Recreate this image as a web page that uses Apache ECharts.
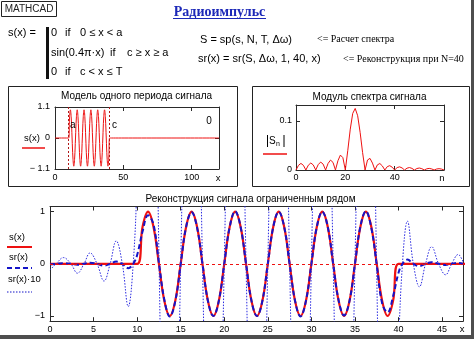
<!DOCTYPE html>
<html>
<head>
<meta charset="utf-8">
<script src="https://cdn.jsdelivr.net/npm/echarts@6/dist/echarts.min.js"></script>
<style>
  html, body { margin: 0; padding: 0; background: #fff; }
  #c { width: 474px; height: 339px; }
</style>
</head>
<body>
<div id="c"></div>
<script>
// Pulse boundaries a and c, period T
const pulseStart = 10;
const pulseEnd = 40;

// s(x): zero outside [a, c], one sine burst inside
const signal = [
  [0, 0], [10, 0],
  [10.625, 0.71], [11.25, 1], [11.875, 0.71], [12.5, 0], [13.125, -0.71], [13.75, -1], [14.375, -0.71], [15, 0],
  [15.625, 0.71], [16.25, 1], [16.875, 0.71], [17.5, 0], [18.125, -0.71], [18.75, -1], [19.375, -0.71], [20, 0],
  [20.625, 0.71], [21.25, 1], [21.875, 0.71], [22.5, 0], [23.125, -0.71], [23.75, -1], [24.375, -0.71], [25, 0],
  [25.625, 0.71], [26.25, 1], [26.875, 0.71], [27.5, 0], [28.125, -0.71], [28.75, -1], [29.375, -0.71], [30, 0],
  [30.625, 0.71], [31.25, 1], [31.875, 0.71], [32.5, 0], [33.125, -0.71], [33.75, -1], [34.375, -0.71], [35, 0],
  [35.625, 0.71], [36.25, 1], [36.875, 0.71], [37.5, 0], [38.125, -0.71], [38.75, -1], [39.375, -0.71], [40, 0],
  [120, 0]
];

// |S_n|, n = 0 .. 60
const spectrumMag = [
  0, 0.0094, 0.0134, 0.0095, 0, 0.0098, 0.0142, 0.0103,
  0, 0.0109, 0.0161, 0.0119, 0, 0.0133, 0.0201, 0.0154,
  0, 0.0188, 0.0303, 0.0251, 0, 0.0400, 0.0830, 0.1149,
  0.125, 0.1102, 0.0764, 0.0353, 0, 0.0204, 0.0236, 0.0140,
  0, 0.0105, 0.0132, 0.0083, 0, 0.0068, 0.0088, 0.0057,
  0, 0.0049, 0.0064, 0.0042, 0, 0.0037, 0.0050, 0.0033,
  0, 0.0030, 0.0040, 0.0027, 0, 0.0024, 0.0033, 0.0022,
  0, 0.0020, 0.0027, 0.0019, 0
];

// sr(x): series truncated at N = 40
const reconstruction = [
  [0, -0.012], [0.75, 0.001], [1.54, 0.012], [2.4, 0], [3.15, -0.018], [3.9, 0], [4.6, 0.021], [5.4, 0],
  [6.2, -0.033], [6.9, 0], [7.6, 0.044], [8.3, 0], [8.98, -0.082], [9.55, 0], [10, 0.17],
  [10.625, 0.62], [11.25, 0.93], [11.875, 0.76], [12.5, 0.02], [13.125, -0.69], [13.75, -1.01], [14.375, -0.72], [15, 0],
  [15.625, 0.71], [16.25, 0.99], [16.875, 0.7], [17.5, 0], [18.125, -0.71], [18.75, -1], [19.375, -0.71], [20, 0],
  [20.625, 0.71], [21.25, 1.01], [21.875, 0.71], [22.5, 0], [23.125, -0.71], [23.75, -1], [24.375, -0.71], [25, 0],
  [25.625, 0.71], [26.25, 1], [26.875, 0.71], [27.5, 0], [28.125, -0.71], [28.75, -1.01], [29.375, -0.71], [30, 0],
  [30.625, 0.71], [31.25, 1], [31.875, 0.71], [32.5, 0], [33.125, -0.7], [33.75, -0.99], [34.375, -0.71], [35, 0],
  [35.625, 0.72], [36.25, 1.01], [36.875, 0.69], [37.5, -0.02], [38.125, -0.76], [38.75, -0.93], [39.375, -0.62], [40, -0.17],
  [40.45, 0], [41.02, 0.082], [41.7, 0], [42.4, -0.044], [43.1, 0], [43.8, 0.033], [44.6, 0], [45.4, -0.021],
  [46.1, 0], [46.85, 0.018], [47.4, 0.004]
];

// sr(x)*10: ripple magnified tenfold, burst runs off the scale
const reconstructionX10 = [
  [0, -0.12], [0.75, 0.01], [1.54, 0.12], [2.4, 0], [3.15, -0.18], [3.9, 0], [4.6, 0.21], [5.4, 0],
  [6.2, -0.33], [6.9, 0], [7.6, 0.44], [8.3, 0], [8.98, -0.82], [9.55, 0], [10, 1.7],
  [10.625, 6.2], [11.25, 9.3], [11.875, 7.6], [12.5, 0.2], [13.75, -10.1], [15, 0], [16.25, 9.9], [17.5, 0],
  [18.75, -10], [20, 0], [21.25, 10.1], [22.5, 0], [23.75, -10], [25, 0], [26.25, 10], [27.5, 0],
  [28.75, -10.1], [30, 0], [31.25, 10], [32.5, 0], [33.75, -9.9], [35, 0], [36.25, 10.1], [37.5, -0.2],
  [38.125, -7.6], [38.75, -9.3], [39.375, -6.2], [40, -1.7], [40.45, 0], [41.02, 0.82], [41.7, 0],
  [42.4, -0.44], [43.1, 0], [43.8, 0.33], [44.6, 0], [45.4, -0.21], [46.1, 0], [46.85, 0.18], [47.4, 0.04]
];

// Tick positions
const ticksModelX = [0, 50, 100];
const ticksModelY = [-1.1, 0, 1.1];
const ticksSpecX = [0, 20, 40];
const ticksSpecY = [0, 0.1];
const ticksReconX = [0, 5, 10, 15, 20, 25, 30, 35, 40, 45];
const ticksReconY = [-1, 0, 1];

const SANS = '"Liberation Sans", Arial, sans-serif';
const SERIF = '"Liberation Serif", "Times New Roman", serif';
const frameColor = '#2a2a2a';
const red = '#ee1111';
const blue = '#1414c8';

function xAxesFor(grid, min, max, ticks, margin) {
  const base = {
    type: 'value', gridIndex: grid, min: min, max: max,
    axisLine: { show: true, onZero: false, lineStyle: { color: frameColor, width: 1 } },
    axisTick: { show: true, inside: true, length: 4, customValues: ticks, lineStyle: { color: frameColor } },
    splitLine: { show: false }
  };
  return [
    Object.assign({}, base, {
      position: 'bottom',
      axisLabel: { show: true, customValues: ticks, margin: margin, fontFamily: SANS, fontSize: 9, color: '#000' }
    }),
    Object.assign({}, base, { position: 'top', axisLabel: { show: false } })
  ];
}

function yAxesFor(grid, min, max, ticks, margin, fmt) {
  const base = {
    type: 'value', gridIndex: grid, min: min, max: max,
    axisLine: { show: true, onZero: false, lineStyle: { color: frameColor, width: 1 } },
    axisTick: { show: true, inside: true, length: 4, customValues: ticks, lineStyle: { color: frameColor } },
    splitLine: { show: false }
  };
  return [
    Object.assign({}, base, {
      position: 'left',
      axisLabel: { show: true, customValues: ticks, margin: margin, fontFamily: SANS, fontSize: 9, color: '#000', formatter: fmt }
    }),
    Object.assign({}, base, { position: 'right', axisLabel: { show: false } })
  ];
}

function txt(x, y, text, opts) {
  opts = opts || {};
  return {
    type: 'text', x: x, y: y, silent: true, z: 10,
    style: {
      text: text,
      font: opts.font || ('10px ' + SANS),
      fill: opts.color || '#000',
      textAlign: opts.align || 'left', align: opts.align || 'left',
      textVerticalAlign: 'middle', verticalAlign: 'middle'
    }
  };
}

function seg(x1, y1, x2, y2, color, width, dash) {
  return {
    type: 'line', silent: true, z: 10,
    shape: { x1: x1, y1: y1, x2: x2, y2: y2 },
    style: { stroke: color, lineWidth: width, lineDash: dash || null }
  };
}

function box(x, y, w, h, stroke, fill, lw) {
  return {
    type: 'rect', silent: true, z: 1,
    shape: { x: x, y: y, width: w, height: h },
    style: { stroke: stroke || null, fill: fill || null, lineWidth: lw || 1 }
  };
}

const fmtModelY = v => (v < 0 ? '\u2212 ' + Math.abs(v) : String(v));
const fmtReconY = v => (v < 0 ? '\u2212' + Math.abs(v) : String(v));

const graphics = [
  // window edges
  box(471, 0, 3, 339, null, '#4e4e4e'),
  box(0, 335, 474, 4, null, '#4e4e4e'),
  // header
  box(1.5, 1.5, 55, 15, '#222', null, 1),
  txt(29, 9.5, 'MATHCAD', { align: 'center', color: '#222', font: '10px ' + SANS }),
  txt(219.5, 12.5, 'Радиоимпульс', { align: 'center', color: '#1c28b8', font: 'bold 14px ' + SERIF }),
  seg(173, 18.5, 266, 18.5, '#1c28b8', 1),
  // piecewise definition
  txt(8, 32.5, 's(x) =', { font: '11px ' + SANS }),
  box(46, 27, 3, 52, null, '#111'),
  txt(51, 33, '0', { font: '11px ' + SANS }),
  txt(65, 33, 'if', { font: '11px ' + SANS }),
  txt(80, 33, '0 \u2264 x < a', { font: '11px ' + SANS }),
  txt(51, 52.5, 'sin(0.4\u03c0\u00b7x)', { font: '11px ' + SANS }),
  txt(110, 52.5, 'if', { font: '11px ' + SANS }),
  txt(127, 52.5, 'c \u2265 x \u2265 a', { font: '11px ' + SANS }),
  txt(51, 72, '0', { font: '11px ' + SANS }),
  txt(65, 72, 'if', { font: '11px ' + SANS }),
  txt(80, 72, 'c < x \u2264 T', { font: '11px ' + SANS }),
  // spectrum and reconstruction calls
  txt(200, 40, 'S = sp(s, N, T, \u0394\u03c9)', { font: '11px ' + SANS }),
  txt(317, 39, '<= Расчет спектра', { font: '10px ' + SERIF }),
  txt(198, 59, 'sr(x) = sr(S, \u0394\u03c9, 1, 40, x)', { font: '11px ' + SANS }),
  txt(343, 59, '<= Реконструкция при N=40', { font: '10px ' + SERIF }),
  // panels
  box(8.5, 86.5, 229, 100, '#222', null, 1),
  box(252.5, 86.5, 217, 100, '#222', null, 1),
  // panel 1 texts
  txt(136.5, 96.5, 'Модель одного периода сигнала', { align: 'center' }),
  txt(24, 138, 's(x)', { font: '9.5px ' + SANS }),
  seg(22, 148, 45, 148, red, 1.5),
  txt(70, 125, 'a', { font: '10px ' + SANS }),
  txt(112, 125, 'c', { font: '10px ' + SANS }),
  txt(209, 121, '0', { align: 'center', font: '10px ' + SANS }),
  txt(218, 178, 'x', { align: 'center', font: '9.5px ' + SANS }),
  // panel 2 texts
  txt(369.5, 97, 'Модуль спектра сигнала', { align: 'center' }),
  seg(267.5, 135, 267.5, 147, '#000', 1),
  txt(269, 141, 'S', { font: '10px ' + SANS }),
  txt(276, 144, 'n', { font: '7px ' + SANS }),
  seg(284, 135, 284, 147, '#000', 1),
  seg(263, 154, 287, 154, red, 1.5),
  txt(442, 178, 'n', { align: 'center', font: '9.5px ' + SANS }),
  // reconstruction panel texts
  txt(250.5, 199, 'Реконструкция сигнала ограниченным рядом', { align: 'center' }),
  txt(9, 237, 's(x)', { font: '9.5px ' + SANS }),
  seg(7, 247, 32, 247, red, 2),
  txt(9, 257, 'sr(x)', { font: '9.5px ' + SANS }),
  seg(7, 268, 32, 268, blue, 2, [5, 3]),
  txt(8, 279, 'sr(x)\u00b710', { font: '9.5px ' + SANS }),
  seg(7, 292, 32, 292, blue, 1, [1.5, 1.5]),
  txt(462, 329, 'x', { align: 'center', font: '9.5px ' + SANS })
];

const option = {
  animation: false,
  backgroundColor: '#ffffff',
  grid: [
    { left: 55, top: 107, width: 164, height: 62, containLabel: false },
    { left: 296, top: 105, width: 148, height: 65, containLabel: false },
    { left: 50, top: 206.5, width: 413, height: 114.7, containLabel: false }
  ],
  xAxis: [].concat(
    xAxesFor(0, 0, 120, ticksModelX, 4),
    xAxesFor(1, 0, 60, ticksSpecX, 3.5),
    xAxesFor(2, 0, 47.4, ticksReconX, 3.5)
  ),
  yAxis: [].concat(
    yAxesFor(0, -1.1, 1.1, ticksModelY, 5, fmtModelY),
    yAxesFor(1, 0, 0.132, ticksSpecY, 4, v => String(v)),
    yAxesFor(2, -1.1, 1.1, ticksReconY, 5, fmtReconY)
  ),
  series: [
    {
      name: 's(x)', type: 'line', xAxisIndex: 0, yAxisIndex: 0,
      data: signal, showSymbol: false, smooth: 0.4, clip: true,
      lineStyle: { color: red, width: 1 },
      markLine: {
        silent: true, symbol: 'none', label: { show: false },
        lineStyle: { color: '#b01818', width: 1, type: [2, 2] },
        data: [{ xAxis: pulseStart }, { xAxis: pulseEnd }]
      }
    },
    {
      name: '|Sn|', type: 'line', xAxisIndex: 2, yAxisIndex: 2,
      data: spectrumMag.map((v, n) => [n, v]), showSymbol: false, clip: true,
      lineStyle: { color: red, width: 1 }
    },
    {
      name: 's(x) recon', type: 'line', xAxisIndex: 4, yAxisIndex: 4,
      data: signal, showSymbol: false, smooth: 0.4, clip: true,
      lineStyle: { color: red, width: 2.2 },
      markLine: {
        silent: true, symbol: 'none', label: { show: false },
        lineStyle: { color: red, width: 1, type: [3, 3] },
        data: [{ yAxis: 0 }]
      }
    },
    {
      name: 'sr(x)', type: 'line', xAxisIndex: 4, yAxisIndex: 4,
      data: reconstruction, showSymbol: false, smooth: 0.4, clip: true,
      lineStyle: { color: blue, width: 2, type: [5, 3] }
    },
    {
      name: 'sr(x)*10', type: 'line', xAxisIndex: 4, yAxisIndex: 4,
      data: reconstructionX10, showSymbol: false, smooth: 0.4, clip: true,
      lineStyle: { color: '#2a2ae0', width: 1, type: [1.5, 1.5] }
    }
  ],
  graphic: { elements: graphics }
};

const chart = echarts.init(document.getElementById('c'), null, { renderer: 'canvas', width: 474, height: 339 });
chart.setOption(option);
</script>
</body>
</html>
